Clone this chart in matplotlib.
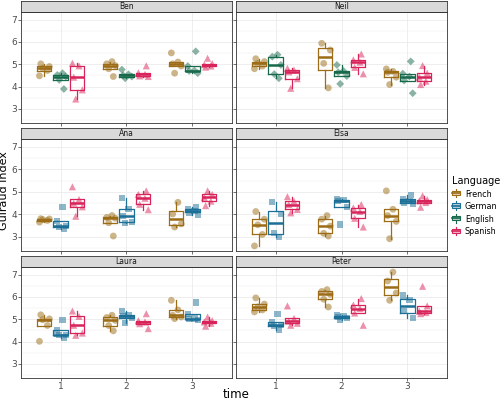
import matplotlib

matplotlib.use("Agg")
import matplotlib.pyplot as plt
from matplotlib.legend_handler import HandlerBase
from matplotlib.lines import Line2D
from matplotlib.patches import Patch, Rectangle

TIMES = [1, 2, 3]
LANGUAGES = ["French", "German", "English", "Spanish"]
STUDENTS = ["Ben", "Neil", "Ana", "Elsa", "Laura", "Peter"]

# Guiraud index per text, one list per time (1, 2, 3)
BEN_FRENCH = [[4.48, 4.72, 4.82, 4.90, 5.02], [4.45, 4.80, 4.94, 5.02, 5.12], [4.60, 4.92, 5.02, 5.10, 5.51]]
BEN_ENGLISH = [[3.89, 4.30, 4.45, 4.52, 4.60], [4.37, 4.45, 4.50, 4.55, 4.76], [4.60, 4.70, 4.72, 4.92, 5.58]]
BEN_SPANISH = [[3.44, 3.85, 4.42, 4.93, 5.05], [4.45, 4.48, 4.55, 4.62, 4.93], [4.87, 4.92, 4.98, 5.03, 5.27]]

NEIL_FRENCH = [[4.80, 4.92, 5.04, 5.12, 5.25], [3.94, 5.04, 5.64, 5.94], [4.09, 4.42, 4.64, 4.68, 4.79]]
NEIL_ENGLISH = [[4.37, 4.56, 4.97, 5.34, 5.43], [4.12, 4.47, 4.64, 4.70, 4.97], [3.70, 4.27, 4.45, 4.58, 5.13]]
NEIL_SPANISH = [[3.92, 4.35, 4.66, 4.74, 4.82], [4.57, 4.86, 5.09, 5.20, 5.46], [4.09, 4.24, 4.42, 4.60, 4.94]]

ANA_FRENCH = [[3.65, 3.72, 3.76, 3.79, 3.80], [3.03, 3.62, 3.82, 3.86, 3.94], [3.43, 3.57, 4.01, 4.53]]
ANA_GERMAN = [[3.35, 3.42, 3.48, 3.70, 4.31], [3.62, 3.67, 3.91, 4.24, 4.71], [3.98, 4.08, 4.16, 4.22, 4.30]]
ANA_SPANISH = [[3.91, 4.33, 4.49, 4.66, 5.22], [4.20, 4.44, 4.71, 4.88, 5.04], [4.38, 4.58, 4.75, 4.88, 5.04]]

ELSA_FRENCH = [[2.59, 3.10, 3.53, 3.78, 4.12], [3.03, 3.15, 3.47, 3.78, 3.94], [2.91, 3.68, 3.94, 4.22, 5.04]]
ELSA_GERMAN = [[2.99, 3.18, 4.01, 4.53], [3.54, 4.32, 4.60, 4.63, 4.66], [4.48, 4.52, 4.60, 4.66, 4.85]]
ELSA_SPANISH = [[4.06, 4.21, 4.43, 4.58, 4.78], [3.43, 3.82, 4.12, 4.28, 4.43], [4.31, 4.52, 4.60, 4.65, 4.82]]

LAURA_FRENCH = [[4.01, 4.72, 4.98, 5.02, 5.20], [4.48, 4.72, 4.95, 5.08, 5.18], [5.03, 5.10, 5.18, 5.42, 5.85]]
LAURA_GERMAN = [[4.18, 4.28, 4.31, 4.50, 4.98], [4.85, 5.05, 5.13, 5.20, 5.36], [4.95, 5.00, 5.03, 5.22, 5.75]]
LAURA_SPANISH = [[4.28, 4.38, 4.73, 5.13, 5.37], [4.58, 4.80, 4.88, 4.94, 5.25], [4.69, 4.82, 4.88, 4.94, 5.10]]

PETER_FRENCH = [[5.33, 5.42, 5.55, 5.68, 5.96], [5.55, 5.90, 6.12, 6.25, 6.33], [5.85, 6.18, 6.72, 7.12]]
PETER_GERMAN = [[4.54, 4.70, 4.76, 4.86, 5.25], [4.98, 5.07, 5.10, 5.14, 5.20], [5.07, 5.38, 5.85, 6.07]]
PETER_SPANISH = [[4.73, 4.82, 4.91, 5.04, 5.60], [4.73, 5.28, 5.48, 5.64, 5.93], [5.25, 5.30, 5.36, 5.60, 6.48]]

PANELS = {
    "Ben": {"French": BEN_FRENCH, "English": BEN_ENGLISH, "Spanish": BEN_SPANISH},
    "Neil": {"French": NEIL_FRENCH, "English": NEIL_ENGLISH, "Spanish": NEIL_SPANISH},
    "Ana": {"French": ANA_FRENCH, "German": ANA_GERMAN, "Spanish": ANA_SPANISH},
    "Elsa": {"French": ELSA_FRENCH, "German": ELSA_GERMAN, "Spanish": ELSA_SPANISH},
    "Laura": {"French": LAURA_FRENCH, "German": LAURA_GERMAN, "Spanish": LAURA_SPANISH},
    "Peter": {"French": PETER_FRENCH, "German": PETER_GERMAN, "Spanish": PETER_SPANISH},
}

COLORS = {"French": "#9C6C17", "German": "#1C6F97", "English": "#17694B", "Spanish": "#D8245A"}
MARKERS = {"French": "o", "German": "s", "English": "D", "Spanish": "^"}
MSIZE = {"French": 24, "German": 20, "English": 16, "Spanish": 26}
JITTER = [-0.07, 0.05, -0.02, 0.08, -0.05, 0.03]

W, H = 500, 400
COLS_PX = [(21, 232), (236, 447)]
ROWS_PX = [(1, 12, 123), (128, 139, 251), (256, 267, 378)]


class BoxKey(HandlerBase):
    """Clé de légende en forme de petite boîte à moustaches."""

    def create_artists(self, legend, orig, xd, yd, width, height, fontsize, trans):
        col = orig.get_edgecolor()
        bw = min(width, height * 1.1)
        x0 = (width - bw) / 2
        box = Rectangle((x0, height * 0.2), bw, height * 0.6, facecolor=col, alpha=0.3,
                        edgecolor="none", transform=trans)
        edge = Rectangle((x0, height * 0.2), bw, height * 0.6, facecolor="none",
                         edgecolor=col, lw=0.8, transform=trans)
        med = Line2D([x0, x0 + bw], [height * 0.5] * 2, color=col, lw=1.2, transform=trans)
        wk1 = Line2D([width / 2] * 2, [-height * 0.1, height * 0.2], color=col, lw=0.8,
                     transform=trans)
        wk2 = Line2D([width / 2] * 2, [height * 0.8, height * 1.1], color=col, lw=0.8,
                     transform=trans)
        return [box, edge, med, wk1, wk2]


all_vals = [v for p in PANELS.values() for lang in p.values() for t in lang for v in t]
lo, hi = min(all_vals), max(all_vals)
pad = 0.05 * (hi - lo)
YLIM = (lo - pad, hi + pad)

fig = plt.figure(figsize=(W / 100, H / 100), dpi=100)
TICK_C = "#4D4D4D"

for i, name in enumerate(STUDENTS):
    r, c = divmod(i, 2)
    x0, x1 = COLS_PX[c]
    s0, p0, p1 = ROWS_PX[r]
    ax = fig.add_axes([x0 / W, 1 - p1 / H, (x1 - x0) / W, (p1 - p0) / H])
    sax = fig.add_axes([x0 / W, 1 - p0 / H, (x1 - x0) / W, (p0 - s0) / H])
    sax.set_xticks([])
    sax.set_yticks([])
    sax.set_facecolor("#D9D9D9")
    for sp in sax.spines.values():
        sp.set_color("#333333")
        sp.set_linewidth(0.6)
    sax.text(0.5, 0.5, name, ha="center", va="center", fontsize=5.5, color="#1A1A1A",
             transform=sax.transAxes)

    langs = list(PANELS[name].keys())
    offsets = [-0.25, 0.0, 0.25]
    for li, lang in enumerate(langs):
        col = COLORS[lang]
        for ti, t in enumerate(TIMES):
            vals = PANELS[name][lang][ti]
            pos = t + offsets[li]
            ax.boxplot(vals, positions=[pos], widths=0.22, whis=1.5, showfliers=False,
                       showcaps=False, manage_ticks=False,
                       boxprops=dict(color=col, lw=0.9),
                       whiskerprops=dict(color=col, lw=0.9),
                       medianprops=dict(color=col, lw=1.8))
            xs = [pos + JITTER[(k + ti + li) % len(JITTER)] for k in range(len(vals))]
            ax.scatter(xs, vals, marker=MARKERS[lang], s=MSIZE[lang], color=col, alpha=0.5,
                       edgecolors="none", zorder=3)

    ax.set_xlim(0.4, 3.6)
    ax.set_ylim(*YLIM)
    ax.set_xticks(TIMES)
    ax.set_yticks([3, 4, 5, 6, 7])
    ax.set_yticks([2.5, 3.5, 4.5, 5.5, 6.5], minor=True)
    ax.grid(True, which="major", color="#EBEBEB", lw=0.6)
    ax.grid(True, which="minor", axis="y", color="#EBEBEB", lw=0.35)
    ax.set_axisbelow(True)
    for sp in ax.spines.values():
        sp.set_color("#333333")
        sp.set_linewidth(0.6)
    ax.tick_params(which="major", length=2.0, width=0.5, color="#333333", labelsize=6.5,
                   labelcolor=TICK_C, pad=1.0)
    ax.tick_params(which="minor", length=0)
    if c == 1:
        ax.tick_params(labelleft=False)
    if r < 2:
        ax.tick_params(labelbottom=False)

fig.text(4.5 / W, 1 - 191 / H, "Guiraud Index", rotation=90, ha="center", va="center",
         fontsize=8)
fig.text(236 / W, 1 - 395 / H, "time", ha="center", va="center", fontsize=8.5)

handles = [Patch(facecolor=COLORS[l], edgecolor=COLORS[l], label=l) for l in LANGUAGES]
leg = fig.legend(handles=handles, title="Language", loc="upper left",
                 bbox_to_anchor=(452 / W, 1 - 176 / H), frameon=False, fontsize=5.8,
                 title_fontsize=7, handlelength=1.1, handleheight=1.0, labelspacing=0.45,
                 handletextpad=0.5, borderaxespad=0, borderpad=0,
                 handler_map={Patch: BoxKey()})
leg._legend_box.align = "left"

fig.savefig("out.png", dpi=100)
